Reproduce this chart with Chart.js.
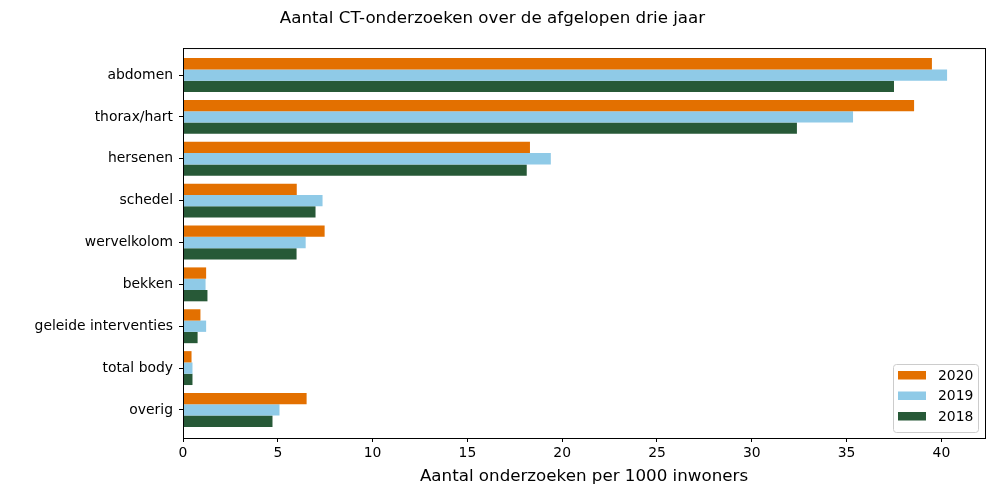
<!DOCTYPE html>
<html>
<head>
<meta charset="utf-8">
<script src="https://cdn.jsdelivr.net/npm/chart.js@4.4.1/dist/chart.umd.min.js"></script>
<style>
  html, body { margin: 0; background: #fff; }
  #wrap { width: 1000px; height: 500px; }
</style>
</head>
<body>
<div id="wrap"><canvas id="ctChart"></canvas></div>
<script>
const categories = ['abdomen', 'thorax/hart', 'hersenen', 'schedel', 'wervelkolom', 'bekken', 'geleide interventies', 'total body', 'overig'];
const years = ['2020', '2019', '2018'];
const values2020 = [39.5, 38.56, 18.3, 6.0, 7.47, 1.22, 0.92, 0.45, 6.52];
const values2019 = [40.3, 35.34, 19.4, 7.36, 6.47, 1.19, 1.22, 0.5, 5.09];
const values2018 = [37.5, 32.38, 18.13, 6.99, 5.99, 1.29, 0.77, 0.5, 4.72];
const xTicks = [0, 5, 10, 15, 20, 25, 30, 35, 40];

const colors = ['#e37000', '#8fcae7', '#275937'];
const font = 'DejaVu Sans';

function toPoints(values) {
  return values.map((v, i) => ({ x: v, y: i }));
}

// draws the full box round the plot and the legend in the lower right corner
const framePlugin = {
  id: 'frame',
  afterDraw(chart) {
    const { ctx, chartArea: a } = chart;
    ctx.save();
    ctx.strokeStyle = '#000';
    ctx.lineWidth = 1;
    ctx.strokeRect(a.left + 0.5, a.top + 0.5, a.right - a.left, a.bottom - a.top);

    const boxW = 85, boxH = 68;
    const bx = a.right - 7 - boxW, by = a.bottom - 6 - boxH;
    ctx.beginPath();
    ctx.roundRect(bx + 0.5, by + 0.5, boxW, boxH, 3);
    ctx.fillStyle = 'rgba(255,255,255,0.8)';
    ctx.fill();
    ctx.strokeStyle = '#cccccc';
    ctx.stroke();

    ctx.font = '13.9px "' + font + '"';
    ctx.textBaseline = 'middle';
    chart.data.datasets.forEach((ds, i) => {
      const cy = by + 11 + i * 20.5;
      ctx.fillStyle = ds.backgroundColor;
      ctx.fillRect(bx + 5, cy - 4, 28, 8.5);
      ctx.fillStyle = '#000';
      ctx.fillText(ds.label, bx + 45, cy + 1);
    });
    ctx.restore();
  }
};

const ctx = document.getElementById('ctChart').getContext('2d');
const ctChart = new Chart(ctx, {
  type: 'bar',
  data: {
    datasets: [
      { label: years[0], data: toPoints(values2020), backgroundColor: colors[0] },
      { label: years[1], data: toPoints(values2019), backgroundColor: colors[1] },
      { label: years[2], data: toPoints(values2018), backgroundColor: colors[2] },
    ],
  },
  options: {
    indexAxis: 'y',
    responsive: true,
    maintainAspectRatio: false,
    animation: false,
    layout: { padding: { left: 0, right: 15, top: 0, bottom: 0 } },
    datasets: {
      bar: { categoryPercentage: 0.81, barPercentage: 1.0, borderWidth: 0 },
    },
    scales: {
      x: {
        type: 'linear',
        min: 0,
        max: 42.3,
        afterBuildTicks: (scale) => { scale.ticks = xTicks.map(v => ({ value: v })); },
        afterFit: (scale) => { scale.height = 62; },
        grid: { drawOnChartArea: false, tickLength: 4, color: '#000' },
        border: { color: '#000' },
        ticks: { color: '#000', font: { family: font, size: 13.9 }, padding: 3 },
        title: {
          display: true,
          text: 'Aantal onderzoeken per 1000 inwoners',
          color: '#000',
          font: { family: font, size: 16.7 },
          padding: { top: 0, bottom: 13 },
        },
      },
      y: {
        type: 'linear',
        reverse: true,
        offset: false,
        min: -0.645,
        max: 8.67,
        afterBuildTicks: (scale) => { scale.ticks = categories.map((c, i) => ({ value: i })); },
        afterFit: (scale) => { scale.width = 183; },
        grid: { drawOnChartArea: false, offset: false, tickLength: 4, color: '#000' },
        border: { color: '#000' },
        ticks: {
          color: '#000',
          font: { family: font, size: 13.9 },
          padding: 6,
          callback: (v) => categories[v],
        },
      },
    },
    plugins: {
      legend: { display: false },
      tooltip: { enabled: false },
      title: {
        display: true,
        text: 'Aantal CT-onderzoeken over de afgelopen drie jaar',
        color: '#000',
        font: { family: font, size: 16.7, weight: 'normal' },
        padding: { top: 9, bottom: 19 },
      },
    },
  },
  plugins: [framePlugin],
});
</script>
</body>
</html>
